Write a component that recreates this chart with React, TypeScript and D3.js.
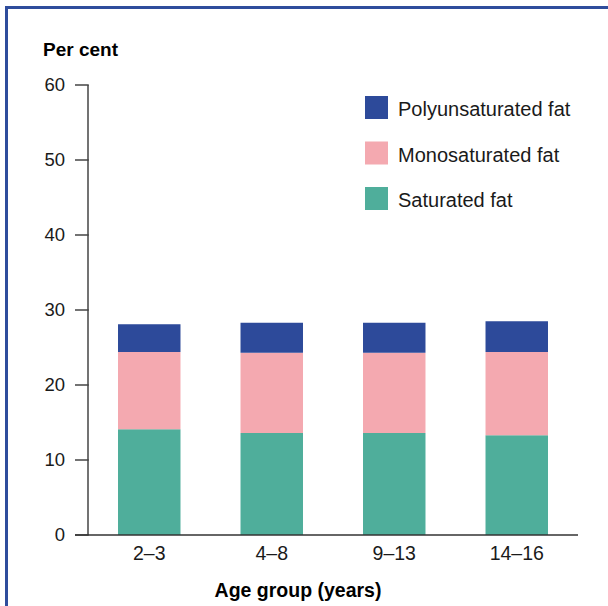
import React from "react";
import * as d3 from "d3";

const categories = ["2–3", "4–8", "9–13", "14–16"];
const saturated = [14.1, 13.6, 13.6, 13.3];
const monosaturated = [10.3, 10.7, 10.7, 11.1];
const polyunsaturated = [3.7, 4.0, 4.0, 4.1];
const seriesNames = ["Saturated fat", "Monosaturated fat", "Polyunsaturated fat"];
const seriesColors = ["#4FAE9B", "#F4A9B0", "#2D4A9A"];
const yTicks = [0, 10, 20, 30, 40, 50, 60];
const legendOrder = ["Polyunsaturated fat", "Monosaturated fat", "Saturated fat"];

const W = 608;
const H = 606;
const FONT = "'Liberation Sans', Arial, sans-serif";

export default function App() {
  const x = d3
    .scaleBand<string>()
    .domain(categories)
    .range([88, 578])
    .paddingInner(0.49)
    .paddingOuter(0.245);
  const y = d3.scaleLinear().domain([0, 60]).range([535, 85]);

  const rows = categories.map((c, i) => ({
    cat: c,
    "Saturated fat": saturated[i],
    "Monosaturated fat": monosaturated[i],
    "Polyunsaturated fat": polyunsaturated[i],
  }));
  const stack = d3.stack<any>().keys(seriesNames)(rows);
  const color = d3.scaleOrdinal<string, string>().domain(seriesNames).range(seriesColors);

  return (
    <svg
      width={W}
      height={H}
      style={{ position: "fixed", left: 0, top: 0, display: "block", background: "#fff" }}
    >
      <rect x={0} y={0} width={W} height={H} fill="#fff" />
      {/* frame */}
      <rect x={6.5} y={7.5} width={W + 20} height={H + 20} fill="none" stroke="#2F4D9C" strokeWidth={3} />

      {/* bars */}
      {stack.map((layer) => (
        <g key={layer.key} fill={color(layer.key)}>
          {layer.map((d, i) => (
            <rect
              key={i}
              x={x(categories[i])}
              width={x.bandwidth()}
              y={y(d[1])}
              height={y(d[0]) - y(d[1])}
            />
          ))}
        </g>
      ))}

      {/* y axis */}
      <line x1={88} x2={88} y1={y(60)} y2={y(0)} stroke="#444" strokeWidth={1.5} />
      {yTicks.map((t) => (
        <g key={t}>
          <line x1={75} x2={88.75} y1={y(t)} y2={y(t)} stroke="#444" strokeWidth={1.5} />
          <text
            x={65}
            y={y(t)}
            dy="0.35em"
            textAnchor="end"
            fontFamily={FONT}
            fontSize={18.5}
            fill="#1a1a1a"
          >
            {t}
          </text>
        </g>
      ))}

      {/* x axis */}
      <line x1={75} x2={578} y1={y(0)} y2={y(0)} stroke="#333" strokeWidth={1.5} />
      {categories.map((c) => (
        <text
          key={c}
          x={(x(c) as number) + x.bandwidth() / 2}
          y={559.5}
          textAnchor="middle"
          fontFamily={FONT}
          fontSize={19.5}
          fill="#1a1a1a"
        >
          {c}
        </text>
      ))}

      {/* titles */}
      <text x={43} y={56} fontFamily={FONT} fontSize={19} fontWeight="bold" fill="#000">
        Per cent
      </text>
      <text x={298} y={597} textAnchor="middle" fontFamily={FONT} fontSize={19.5} fontWeight="bold" fill="#000">
        Age group (years)
      </text>

      {/* legend */}
      {legendOrder.map((name, i) => (
        <g key={name} transform={`translate(365, ${96 + i * 45.5})`}>
          <rect x={0} y={0} width={23} height={23} fill={color(name)} />
          <text x={33} y={20} fontFamily={FONT} fontSize={20} fill="#1a1a1a">
            {name}
          </text>
        </g>
      ))}
    </svg>
  );
}
